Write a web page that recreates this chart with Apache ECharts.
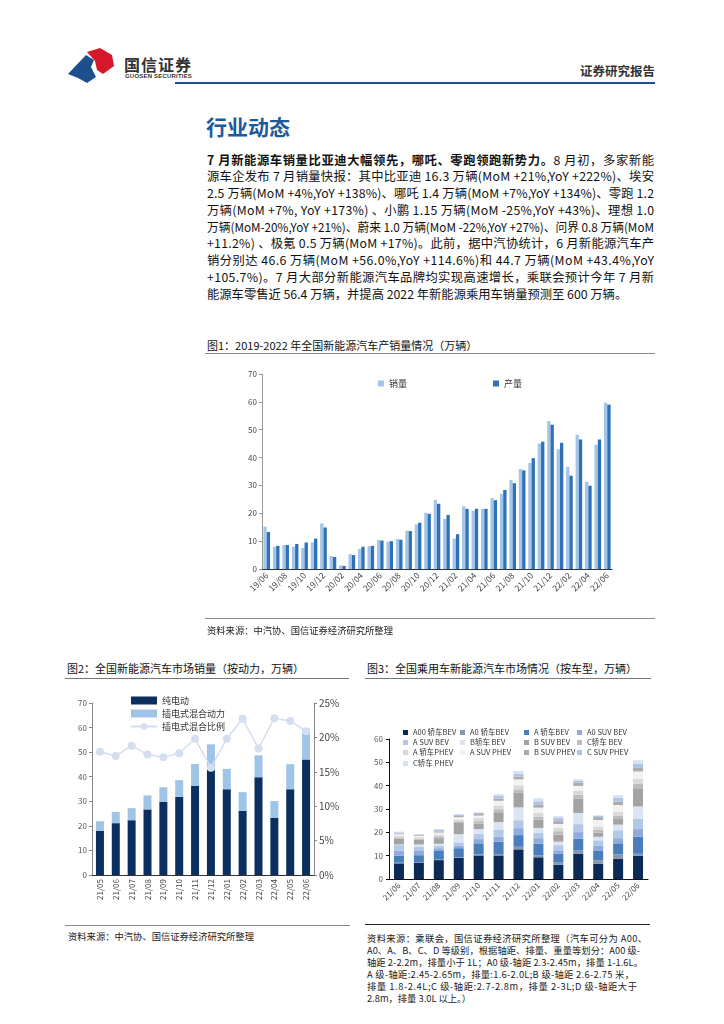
<!DOCTYPE html>
<html><head><meta charset="utf-8">
<script src="https://cdn.jsdelivr.net/npm/echarts@6/dist/echarts.min.js"></script>
<style>
html,body{margin:0;padding:0;background:#fff}
body{width:724px;height:1024px;position:relative;overflow:hidden;font-family:"Noto Sans CJK SC","Noto Sans",sans-serif;color:#222}
.a{position:absolute;white-space:nowrap}
.hl{position:absolute;height:1px}
.para{font-family:"Liberation Sans Narrow","Noto Sans CJK SC",sans-serif;font-size:12.3px;line-height:16.75px;color:#111}
.fit span{display:inline-block;transform-origin:0 50%}
.note{font-size:9.3px;color:#222;line-height:12px}
.ftitle{font-size:11px;color:#111;line-height:14px}
#c1,#c2,#c3{position:absolute}
</style></head><body>

<svg class="a" style="left:66px;top:46px" width="54" height="40" viewBox="0 0 54 40">
  <polygon points="2,28 20,9 28,14 25,21 30,31 21,37 12,32" fill="#1d4f8c"/>
  <polygon points="21,6 34,2 46,9 48,20 37,28 31,24 29,15" fill="#d7182a"/>
</svg>
<div class="a" style="left:124px;top:52px;font-size:16px;font-weight:bold;color:#333;letter-spacing:1px">国信证券</div>
<div class="a" style="left:125px;top:73px;font-size:6px;font-weight:bold;color:#333;font-family:'Liberation Sans',sans-serif;letter-spacing:0.2px">GUOSEN SECURITIES</div>
<div class="a" style="left:580px;top:61px;font-size:12.5px;font-weight:bold;color:#333">证券研究报告</div>
<div class="hl" style="left:175px;top:82px;width:480px;height:2px;background:#1f4e8c"></div>

<div class="a" style="left:206px;top:112px;font-size:21px;font-weight:bold;color:#1c5a9c;line-height:28px">行业动态</div>

<div class="a para" style="left:207px;top:151.6px;width:447px">
<div class="fit" data-w="447" data-j="1"><span><b>7 月新能源车销量比亚迪大幅领先，哪吒、零跑领跑新势力。</b>8 月初，多家新能</span></div>
<div class="fit" data-w="447" data-j="1"><span>源车企发布 7 月销量快报：其中比亚迪 16.3 万辆(MoM +21%,YoY +222%)、埃安</span></div>
<div class="fit" data-w="447" data-j="1"><span>2.5 万辆(MoM +4%,YoY +138%)、哪吒 1.4 万辆(MoM +7%,YoY +134%)、零跑 1.2</span></div>
<div class="fit" data-w="447" data-j="1"><span>万辆(MoM +7%, YoY +173%) 、小鹏 1.15 万辆(MoM -25%,YoY +43%)、理想 1.0</span></div>
<div class="fit" data-w="447" data-j="1"><span>万辆(MoM-20%,YoY +21%)、蔚来 1.0 万辆(MoM -22%,YoY +27%)、问界 0.8 万辆(MoM</span></div>
<div class="fit" data-w="447" data-j="1"><span>+11.2%) 、极氪 0.5 万辆(MoM +17%)。此前，据中汽协统计，6 月新能源汽车产</span></div>
<div class="fit" data-w="447" data-j="1"><span>销分别达 46.6 万辆(MoM +56.0%,YoY +114.6%)和 44.7 万辆(MoM +43.4%,YoY</span></div>
<div class="fit" data-w="447" data-j="1"><span>+105.7%)。7 月大部分新能源汽车品牌均实现高速增长，乘联会预计今年 7 月新</span></div>
<div class="fit" data-w="447" data-j="0"><span>能源车零售近 56.4 万辆，并提高 2022 年新能源乘用车销量预测至 600 万辆。</span></div>
</div>

<div class="a ftitle" style="left:207px;top:338px">图1：2019-2022 年全国新能源汽车产销量情况（万辆）</div>
<div class="hl" style="left:205px;top:353px;width:450px;background:#888"></div>
<div id="c1" style="left:200px;top:360px;width:430px;height:260px"></div>
<div class="hl" style="left:205px;top:618px;width:450px;background:#888"></div>
<div class="a note" style="left:207px;top:624px">资料来源：中汽协、国信证券经济研究所整理</div>

<div class="a ftitle" style="left:67px;top:661px">图2：全国新能源汽车市场销量（按动力，万辆）</div>
<div class="hl" style="left:65px;top:678px;width:284px;background:#777"></div>
<div id="c2" style="left:62px;top:685px;width:290px;height:240px"></div>
<div class="hl" style="left:65px;top:925px;width:285px;background:#888"></div>
<div class="a note" style="left:68px;top:930px">资料来源：中汽协、国信证券经济研究所整理</div>

<div class="a ftitle" style="left:367px;top:661px">图3：全国乘用车新能源汽车市场情况（按车型，万辆）</div>
<div class="hl" style="left:365px;top:678px;width:286px;background:#777"></div>
<div id="c3" style="left:362px;top:720px;width:300px;height:195px"></div>
<div class="hl" style="left:365px;top:924px;width:285px;background:#222"></div>
<div class="a note" style="left:367px;top:932px">
<div class="fit" data-w="280" data-j="1"><span>资料来源：乘联会，国信证券经济研究所整理（汽车可分为 A00、</span></div>
<div class="fit" data-w="273" data-j="1"><span>A0、A、B、C、D 等级别，根据轴距、排量、重量等划分：A00 级-</span></div>
<div class="fit" data-w="276" data-j="1"><span>轴距 2-2.2m，排量小于 1L；A0 级-轴距 2.3-2.45m，排量 1-1.6L。</span></div>
<div class="fit" data-w="267" data-j="1"><span>A 级-轴距:2.45-2.65m，排量:1.6-2.0L;B 级-轴距 2.6-2.75 米，</span></div>
<div class="fit" data-w="270" data-j="1"><span>排量 1.8-2.4L;C 级-轴距:2.7-2.8m，排量 2-3L;D 级-轴距大于</span></div>
<div class="fit" data-w="280" data-j="0"><span>2.8m，排量 3.0L 以上。）</span></div>
</div>

<script>
// ---------- Chart 1 data ----------
const chart1Months = ['19/06','19/07','19/08','19/09','19/10','19/11','19/12',
  '20/01','20/02','20/03','20/04','20/05','20/06','20/07','20/08','20/09','20/10','20/11','20/12',
  '21/01','21/02','21/03','21/04','21/05','21/06','21/07','21/08','21/09','21/10','21/11','21/12',
  '22/01','22/02','22/03','22/04','22/05','22/06'];
const chart1Sales = [15.2,8.0,8.6,8.0,7.6,9.6,16.4,
  4.7,1.3,5.3,7.2,8.2,10.4,9.8,10.8,13.8,16.0,20.2,24.8,
  18.0,10.9,22.5,20.9,21.6,25.5,27.0,32.0,35.9,38.1,45.0,53.1,
  43.0,36.7,48.2,31.3,44.6,59.7];
const chart1Output = [13.3,8.3,8.6,9.0,9.5,10.9,14.9,
  4.3,1.1,5.0,8.0,8.3,10.2,10.0,10.5,13.6,16.6,19.8,23.4,
  19.4,12.5,21.6,21.6,21.6,24.7,28.4,30.8,35.4,39.8,45.7,51.8,
  45.3,33.5,46.5,29.9,46.5,59.0];

// ---------- Chart 2 data ----------
const chart2Months = ['21/05','21/06','21/07','21/08','21/09','21/10','21/11','21/12','22/01','22/02','22/03','22/04','22/05','22/06'];
const chart2Bev = [18.0,21.1,22.3,26.7,29.8,31.8,36.3,42.9,34.9,26.1,39.8,23.2,34.9,47.0];
const chart2Phev = [3.9,4.6,4.9,5.7,5.9,6.8,8.9,10.3,8.3,7.6,8.9,6.9,10.2,11.2];
const chart2PhevRatio = [17.9,17.3,18.8,17.5,17.1,17.7,19.8,15.6,19.8,22.7,18.4,22.8,22.4,20.9];

// ---------- Chart 3 data ----------
const chart3Months = ['21/06','21/07','21/08','21/09','21/10','21/11','21/12','22/01','22/02','22/03','22/04','22/05','22/06'];
const chart3Names = ['A00 轿车BEV','A0 轿车BEV','A 轿车BEV','A0 SUV BEV','A SUV BEV','B轿车 BEV','B SUV BEV','C轿车 BEV','A 轿车PHEV','A SUV PHEV','B SUV PHEV','C SUV PHEV','C轿车 PHEV'];
const a00CarBev  = [6.7,7.0,8.1,9.1,10.1,10.1,12.7,9.3,6.1,10.9,6.6,8.6,9.9];
const a0CarBev   = [0.3,0.2,0.2,0.2,0.5,0.6,1.1,0.8,1.1,1.3,1.4,2.0,0.9];
const aCarBev    = [3.0,3.0,3.7,3.9,4.7,5.3,5.0,5.0,3.6,5.1,4.0,4.7,7.3];
const a0SuvBev   = [2.1,2.1,1.2,1.2,1.8,2.2,3.0,2.4,1.5,2.8,2.2,2.2,3.3];
const aSuvBev    = [2.4,1.5,1.0,1.3,2.3,3.0,3.4,2.4,2.2,3.4,2.4,3.4,4.5];
const bCarBev    = [0.3,1.0,0.9,3.5,2.0,3.2,5.5,2.0,1.5,4.8,1.5,2.4,5.2];
const bSuvBev    = [2.4,2.0,2.4,4.8,2.4,4.2,6.2,3.6,3.0,6.2,1.8,2.4,7.8];
const cCarBev    = [0.6,0.5,0.8,0.7,1.0,1.3,1.5,1.2,1.5,1.6,1.2,1.5,2.0];
const aCarPhev   = [0.8,0.6,0.8,0.8,1.4,1.6,1.8,1.6,1.5,1.8,1.4,1.5,2.0];
const aSuvPhev   = [0.6,0.6,0.8,1.0,1.0,2.0,2.5,2.3,1.6,2.0,2.8,3.0,3.2];
const bSuvPhev   = [0.3,0.3,0.5,0.5,0.7,1.0,1.2,1.2,1.2,1.4,1.2,1.5,1.5];
const cSuvPhev   = [0.5,0.3,0.6,0.5,0.5,1.2,1.2,1.5,1.4,0.7,0.6,1.6,1.8];
const cCarPhev   = [0.3,0.2,0.4,0.4,0.3,0.7,1.2,1.3,0.8,0.7,0.3,1.2,1.5];

const FONT = '"Noto Sans CJK SC","Noto Sans",sans-serif';

// text line fitting
document.querySelectorAll('.fit').forEach(el=>{
  const s = el.querySelector('span');
  const W = parseFloat(el.dataset.w);
  const w = s.getBoundingClientRect().width;
  if (w > W) { s.style.transform = 'scaleX(' + (W/w) + ')'; }
  else if (el.dataset.j === '1') {
    const n = s.textContent.length;
    s.style.letterSpacing = ((W - w) / (n - 1)) + 'px';
  }
});

// ---------- Chart 1 ----------
const c1 = echarts.init(document.getElementById('c1'));
c1.setOption({
  animation:false,
  textStyle:{fontFamily:FONT},
  legend:[
    {data:['销量'], left:178, top:19, icon:'rect', itemWidth:6, itemHeight:6, padding:0, textStyle:{fontSize:9,color:'#333'}},
    {data:['产量'], left:293, top:19, icon:'rect', itemWidth:6, itemHeight:6, padding:0, textStyle:{fontSize:9,color:'#333'}}
  ],
  grid:{left:62,right:18,top:14,bottom:51},
  xAxis:{type:'category', data:chart1Months,
    axisLine:{lineStyle:{color:'#333'}},
    axisTick:{interval:1,length:3,lineStyle:{color:'#333'}},
    axisLabel:{interval:1,rotate:45,fontSize:8.5,color:'#444',margin:5}},
  yAxis:{type:'value', min:0, max:70, interval:10, splitLine:{show:false},
    axisLine:{show:true,lineStyle:{color:'#999'}},
    axisTick:{show:true,length:3,lineStyle:{color:'#999'}},
    axisLabel:{fontSize:8,color:'#444',margin:5}},
  series:[
    {name:'销量', type:'bar', data:chart1Sales, barGap:'0%', barCategoryGap:'30%', itemStyle:{color:'#a3c5e8'}},
    {name:'产量', type:'bar', data:chart1Output, itemStyle:{color:'#2e71b6'}}
  ]
});

// ---------- Chart 2 ----------
const c2 = echarts.init(document.getElementById('c2'));
c2.setOption({
  animation:false,
  textStyle:{fontFamily:FONT},
  legend:{orient:'vertical', left:68, top:11, itemWidth:26, itemHeight:8, itemGap:4, padding:0,
    textStyle:{fontSize:9,color:'#333'},
    data:[{name:'纯电动',icon:'rect'},{name:'插电式混合动力',icon:'rect'},{name:'插电式混合比例'}]},
  grid:{left:30,right:38,top:18,bottom:50},
  xAxis:{type:'category', data:chart2Months,
    axisLine:{lineStyle:{color:'#333'}},
    axisTick:{length:3,lineStyle:{color:'#333'}},
    axisLabel:{rotate:90,fontSize:8,color:'#444',margin:4}},
  yAxis:[
    {type:'value', min:0, max:70, interval:10, position:'left', splitLine:{show:false},
      axisLine:{show:true,lineStyle:{color:'#888'}}, axisTick:{show:true,length:3,lineStyle:{color:'#888'}},
      axisLabel:{fontSize:8,color:'#555',margin:5}},
    {type:'value', min:0, max:25, interval:5, position:'right', splitLine:{show:false},
      axisLine:{show:true,lineStyle:{color:'#888'}}, axisTick:{show:true,length:3,lineStyle:{color:'#888'}},
      axisLabel:{fontSize:10,color:'#444',margin:5,formatter:'{value}%'}}
  ],
  series:[
    {name:'纯电动', type:'bar', stack:'t', data:chart2Bev, barWidth:8, itemStyle:{color:'#0c2f5f'}},
    {name:'插电式混合动力', type:'bar', stack:'t', data:chart2Phev, barWidth:8, itemStyle:{color:'#9fc4e7'}},
    {name:'插电式混合比例', type:'line', yAxisIndex:1, data:chart2PhevRatio, symbol:'circle', symbolSize:8,
      lineStyle:{color:'#d5ddf0',width:1.5}, itemStyle:{color:'#d5ddf0'}, z:5}
  ]
});

// ---------- Chart 3 ----------
const chart3Data = [a00CarBev,a0CarBev,aCarBev,a0SuvBev,aSuvBev,bCarBev,bSuvBev,cCarBev,aCarPhev,aSuvPhev,bSuvPhev,cSuvPhev,cCarPhev];
const chart3Colors = ['#0c2a56','#8797ae','#4a7dbc','#8eabdb','#b3c7e6','#dbe4f3','#a3a3a3','#bdbdbd','#d9d9d9','#f2f2f2','#ababab','#aec3e6','#d6e1f2'];
const legCols = [41,98,162,215];
const legRows = [8,18,28,39];
const c3 = echarts.init(document.getElementById('c3'));
c3.setOption({
  animation:false,
  textStyle:{fontFamily:FONT},
  legend: chart3Names.map((n,i)=>({data:[n], left:legCols[i%4], top:legRows[Math.floor(i/4)], icon:'rect',
    itemWidth:5, itemHeight:5, padding:0, textStyle:{fontSize:7.5,color:'#333',lineHeight:9}})),
  grid:{left:27,right:14,top:19,bottom:36},
  xAxis:{type:'category', data:chart3Months,
    axisLine:{lineStyle:{color:'#111'}},
    axisTick:{length:3,lineStyle:{color:'#111'}},
    axisLabel:{rotate:45,fontSize:8,color:'#444',margin:5}},
  yAxis:{type:'value', min:0, max:60, interval:10, splitLine:{show:false},
    axisLine:{show:true,lineStyle:{color:'#111'}}, axisTick:{show:true,length:3,lineStyle:{color:'#111'}},
    axisLabel:{fontSize:8,color:'#555',margin:6}},
  series: chart3Names.map((n,i)=>({name:n, type:'bar', stack:'s', data:chart3Data[i], barWidth:10,
    itemStyle:{color:chart3Colors[i]}}))
});
</script>
</body></html>
